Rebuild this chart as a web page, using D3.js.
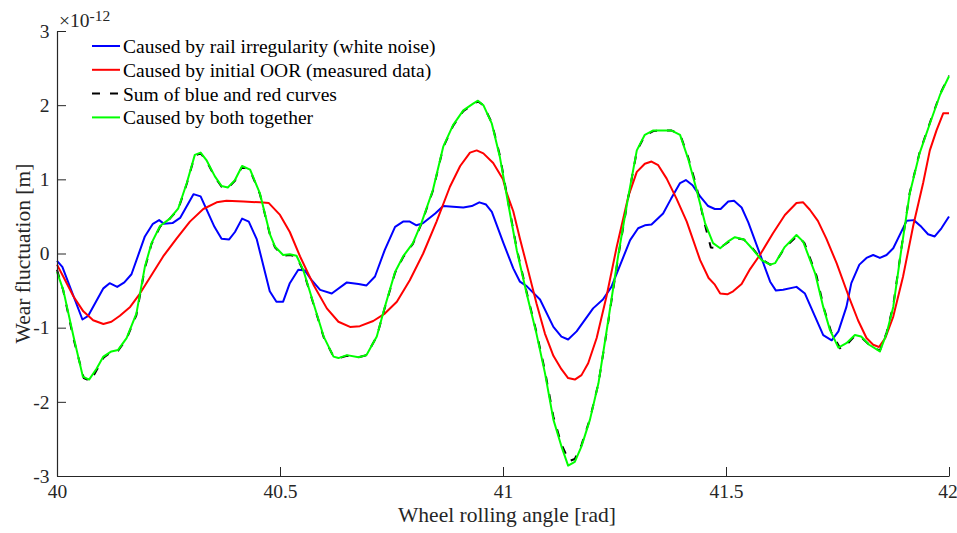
<!DOCTYPE html>
<html>
<head>
<meta charset="utf-8">
<script src="https://cdn.jsdelivr.net/npm/d3@7"></script>
<style>
  body { margin: 0; background: #fff; }
  svg { display: block; }
  text { font-family: "Liberation Serif", "Times New Roman", serif; fill: #262626; }
</style>
</head>
<body>
<svg id="chart" width="957" height="533"></svg>
<script>
// Wear fluctuation (×1e-12 m) against wheel rolling angle (rad)

const blueAngle = [40.0, 40.012, 40.057, 40.07, 40.104, 40.118, 40.135, 40.151, 40.167, 40.197, 40.215, 40.229, 40.24, 40.259, 40.276, 40.306, 40.322, 40.353, 40.369, 40.386, 40.399, 40.415, 40.43, 40.448, 40.477, 40.492, 40.507, 40.522, 40.541, 40.556, 40.571, 40.59, 40.616, 40.65, 40.676, 40.694, 40.713, 40.735, 40.758, 40.776, 40.791, 40.806, 40.821, 40.848, 40.866, 40.888, 40.911, 40.93, 40.947, 40.962, 40.975, 41.001, 41.023, 41.038, 41.053, 41.083, 41.113, 41.131, 41.146, 41.165, 41.202, 41.224, 41.243, 41.285, 41.303, 41.318, 41.333, 41.359, 41.377, 41.397, 41.41, 41.425, 41.442, 41.46, 41.475, 41.488, 41.505, 41.518, 41.535, 41.55, 41.599, 41.612, 41.628, 41.658, 41.677, 41.718, 41.737, 41.752, 41.77, 41.781, 41.799, 41.815, 41.83, 41.845, 41.86, 41.875, 41.905, 41.921, 41.938, 41.953, 41.968, 41.983, 42.0];
const blueWear = [-0.10, -0.18, -0.89, -0.84, -0.47, -0.40, -0.45, -0.39, -0.28, 0.23, 0.40, 0.45, 0.40, 0.41, 0.48, 0.80, 0.77, 0.36, 0.20, 0.19, 0.29, 0.47, 0.43, 0.19, -0.51, -0.65, -0.65, -0.40, -0.22, -0.23, -0.36, -0.49, -0.54, -0.39, -0.41, -0.43, -0.31, 0.05, 0.36, 0.43, 0.43, 0.38, 0.41, 0.54, 0.64, 0.63, 0.62, 0.64, 0.69, 0.66, 0.56, 0.14, -0.20, -0.38, -0.44, -0.62, -0.99, -1.12, -1.16, -1.05, -0.74, -0.62, -0.45, 0.18, 0.34, 0.38, 0.39, 0.54, 0.74, 0.95, 0.99, 0.92, 0.77, 0.64, 0.60, 0.60, 0.70, 0.71, 0.62, 0.42, -0.38, -0.50, -0.49, -0.45, -0.54, -1.10, -1.17, -1.05, -0.72, -0.40, -0.15, -0.06, -0.02, -0.06, -0.02, 0.07, 0.44, 0.45, 0.36, 0.26, 0.23, 0.34, 0.50];

const redAngle = [40.0, 40.014, 40.037, 40.059, 40.081, 40.104, 40.122, 40.141, 40.164, 40.186, 40.212, 40.238, 40.268, 40.298, 40.328, 40.358, 40.38, 40.418, 40.455, 40.475, 40.5, 40.522, 40.545, 40.575, 40.605, 40.631, 40.657, 40.679, 40.709, 40.735, 40.762, 40.791, 40.821, 40.851, 40.881, 40.904, 40.926, 40.941, 40.956, 40.978, 41.0, 41.008, 41.023, 41.038, 41.053, 41.075, 41.094, 41.113, 41.131, 41.146, 41.161, 41.176, 41.191, 41.21, 41.232, 41.255, 41.281, 41.3, 41.318, 41.333, 41.348, 41.367, 41.389, 41.412, 41.442, 41.461, 41.475, 41.487, 41.503, 41.516, 41.535, 41.554, 41.576, 41.605, 41.632, 41.658, 41.673, 41.688, 41.706, 41.725, 41.748, 41.774, 41.796, 41.815, 41.83, 41.843, 41.857, 41.875, 41.897, 41.92, 41.942, 41.957, 41.972, 41.987, 42.0];
const redWear = [-0.15, -0.31, -0.58, -0.78, -0.90, -0.95, -0.92, -0.84, -0.72, -0.54, -0.29, -0.04, 0.20, 0.43, 0.60, 0.69, 0.71, 0.70, 0.69, 0.68, 0.52, 0.29, -0.04, -0.42, -0.74, -0.92, -0.99, -0.98, -0.91, -0.81, -0.65, -0.36, 0.00, 0.43, 0.90, 1.18, 1.36, 1.39, 1.35, 1.22, 1.00, 0.82, 0.57, 0.20, -0.15, -0.67, -1.08, -1.38, -1.56, -1.68, -1.70, -1.64, -1.48, -1.14, -0.58, 0.09, 0.77, 1.10, 1.21, 1.24, 1.19, 1.01, 0.74, 0.43, -0.09, -0.33, -0.42, -0.54, -0.55, -0.51, -0.41, -0.21, -0.02, 0.27, 0.52, 0.68, 0.69, 0.59, 0.44, 0.20, -0.13, -0.56, -0.90, -1.14, -1.23, -1.26, -1.14, -0.85, -0.31, 0.38, 0.95, 1.39, 1.66, 1.89, 1.89];

const sumAngle = [40.0, 40.014, 40.037, 40.06, 40.075, 40.09, 40.105, 40.122, 40.137, 40.156, 40.178, 40.197, 40.212, 40.231, 40.253, 40.272, 40.291, 40.309, 40.322, 40.335, 40.354, 40.369, 40.383, 40.399, 40.415, 40.433, 40.455, 40.478, 40.489, 40.507, 40.522, 40.537, 40.552, 40.575, 40.598, 40.62, 40.631, 40.65, 40.676, 40.694, 40.717, 40.735, 40.758, 40.776, 40.798, 40.817, 40.843, 40.866, 40.888, 40.911, 40.933, 40.944, 40.956, 40.975, 40.993, 41.012, 41.031, 41.053, 41.075, 41.094, 41.113, 41.131, 41.148, 41.161, 41.176, 41.195, 41.214, 41.236, 41.259, 41.281, 41.3, 41.318, 41.337, 41.359, 41.377, 41.397, 41.415, 41.434, 41.45, 41.466, 41.485, 41.504, 41.52, 41.54, 41.561, 41.58, 41.599, 41.61, 41.632, 41.66, 41.676, 41.703, 41.72, 41.736, 41.757, 41.772, 41.789, 41.803, 41.823, 41.845, 41.86, 41.875, 41.893, 41.912, 41.934, 41.957, 41.98, 42.0];
const sumWear = [-0.22, -0.50, -1.15, -1.68, -1.72, -1.56, -1.40, -1.33, -1.31, -1.15, -0.83, -0.20, 0.13, 0.36, 0.47, 0.60, 0.94, 1.32, 1.35, 1.25, 1.03, 0.90, 0.88, 0.98, 1.17, 1.12, 0.80, 0.24, 0.08, -0.03, -0.02, -0.04, -0.23, -0.68, -1.13, -1.39, -1.41, -1.38, -1.40, -1.37, -1.12, -0.73, -0.26, -0.05, 0.13, 0.40, 0.85, 1.43, 1.72, 1.92, 2.01, 2.05, 2.00, 1.76, 1.32, 0.68, 0.06, -0.52, -1.06, -1.58, -2.20, -2.57, -2.80, -2.77, -2.58, -2.23, -1.75, -0.92, -0.02, 0.76, 1.38, 1.59, 1.65, 1.66, 1.66, 1.61, 1.30, 0.90, 0.45, 0.08, 0.07, 0.15, 0.21, 0.19, 0.06, -0.08, -0.15, -0.13, 0.08, 0.24, 0.14, -0.30, -0.75, -1.06, -1.29, -1.22, -1.11, -1.13, -1.24, -1.31, -1.07, -0.70, 0.06, 0.82, 1.36, 1.76, 2.15, 2.40];

const greenAngle = [40.0, 40.014, 40.037, 40.058, 40.072, 40.089, 40.104, 40.122, 40.137, 40.156, 40.178, 40.197, 40.212, 40.231, 40.253, 40.272, 40.291, 40.309, 40.322, 40.335, 40.354, 40.369, 40.383, 40.399, 40.415, 40.433, 40.455, 40.478, 40.489, 40.507, 40.522, 40.537, 40.552, 40.575, 40.598, 40.62, 40.631, 40.65, 40.676, 40.694, 40.717, 40.735, 40.758, 40.776, 40.798, 40.817, 40.843, 40.866, 40.888, 40.911, 40.933, 40.944, 40.956, 40.975, 40.993, 41.012, 41.031, 41.053, 41.075, 41.094, 41.113, 41.131, 41.146, 41.161, 41.176, 41.195, 41.214, 41.236, 41.259, 41.281, 41.3, 41.318, 41.337, 41.359, 41.377, 41.397, 41.415, 41.434, 41.453, 41.471, 41.487, 41.504, 41.52, 41.54, 41.561, 41.58, 41.599, 41.61, 41.632, 41.658, 41.673, 41.7, 41.718, 41.733, 41.752, 41.77, 41.789, 41.803, 41.821, 41.845, 41.86, 41.875, 41.893, 41.912, 41.934, 41.957, 41.98, 42.0];
const greenWear = [-0.25, -0.49, -1.12, -1.66, -1.70, -1.55, -1.39, -1.32, -1.30, -1.14, -0.81, -0.18, 0.14, 0.37, 0.47, 0.61, 0.95, 1.33, 1.36, 1.26, 1.04, 0.91, 0.89, 0.99, 1.18, 1.13, 0.81, 0.25, 0.09, -0.02, -0.01, -0.03, -0.22, -0.67, -1.12, -1.39, -1.41, -1.37, -1.40, -1.37, -1.12, -0.72, -0.25, -0.04, 0.14, 0.41, 0.86, 1.44, 1.73, 1.93, 2.02, 2.06, 2.00, 1.75, 1.30, 0.66, 0.04, -0.54, -1.08, -1.61, -2.24, -2.60, -2.86, -2.81, -2.60, -2.24, -1.75, -0.90, 0.00, 0.77, 1.39, 1.60, 1.66, 1.66, 1.66, 1.60, 1.28, 0.86, 0.41, 0.14, 0.07, 0.16, 0.22, 0.19, 0.05, -0.09, -0.15, -0.13, 0.09, 0.25, 0.16, -0.27, -0.72, -1.03, -1.27, -1.21, -1.10, -1.12, -1.23, -1.32, -1.08, -0.72, 0.05, 0.81, 1.35, 1.75, 2.14, 2.39];

const xTicks = [40, 40.5, 41, 41.5, 42];
const xTickLabels = ["40", "40.5", "41", "41.5", "42"];
const yTicks = [-3, -2, -1, 0, 1, 2, 3];
const yTickLabels = ["-3", "-2", "-1", "0", "1", "2", "3"];

const seriesNames = [
  "Caused by rail irregularity (white noise)",
  "Caused by initial OOR (measured data)",
  "Sum of blue and red curves",
  "Caused by both together"
];

const svg = d3.select("#chart");
const plotLeft = 57, plotRight = 949, plotTop = 31, plotBottom = 476;
const serif = '"Liberation Serif", "Times New Roman", serif';
const tickFont = "19.5px", titleFont = "21.5px";

const x = d3.scaleLinear().domain([40, 42]).range([plotLeft, plotRight]);
const y = d3.scaleLinear().domain([-3, 3]).range([plotBottom, plotTop]);

const zip = (a, b) => a.map((v, i) => [v, b[i]]);
const series = [
  { pts: zip(blueAngle, blueWear), color: "#0000ff", dash: null },
  { pts: zip(redAngle, redWear), color: "#ff0000", dash: null },
  { pts: zip(sumAngle, sumWear), color: "#000000", dash: "8,10" },
  { pts: zip(greenAngle, greenWear), color: "#00ff00", dash: null }
];

const line = d3.line().x(d => x(d[0])).y(d => y(d[1]));

// curves
const plot = svg.append("g");
series.forEach(s => {
  plot.append("path")
    .datum(s.pts)
    .attr("d", line)
    .attr("fill", "none")
    .attr("stroke", s.color)
    .attr("stroke-width", 2)
    .attr("stroke-linejoin", "round")
    .attr("stroke-dasharray", s.dash);
});

// axes with inward ticks
const xAxis = d3.axisBottom(x)
  .tickValues(xTicks)
  .tickFormat((d, i) => xTickLabels[i])
  .tickSizeInner(-9).tickSizeOuter(0).tickPadding(8.5);
const yAxis = d3.axisLeft(y)
  .tickValues(yTicks)
  .tickFormat((d, i) => yTickLabels[i])
  .tickSizeInner(-9).tickSizeOuter(0).tickPadding(7.5);

const gx = svg.append("g").attr("transform", `translate(0,${plotBottom})`).call(xAxis);
const gy = svg.append("g").attr("transform", `translate(${plotLeft},0)`).call(yAxis);
[gx, gy].forEach(g => {
  g.attr("font-family", serif).attr("font-size", tickFont);
  g.selectAll("path.domain").attr("stroke", "#262626").attr("stroke-width", 1.2);
  g.selectAll(".tick line").attr("stroke", "#262626").attr("stroke-width", 1);
  g.selectAll(".tick text")
    .attr("fill", "#262626")
    .style("font-family", serif)
    .style("font-size", tickFont);
});
// the last x label sits against the right edge of the figure
gx.selectAll(".tick text").filter((d, i) => i === xTicks.length - 1).attr("x", -1.5);

// axis titles
svg.append("text")
  .attr("x", 507).attr("y", 521.5)
  .attr("text-anchor", "middle")
  .style("font-size", titleFont)
  .text("Wheel rolling angle [rad]");

svg.append("text")
  .attr("transform", `translate(30,${(plotTop + plotBottom) / 2}) rotate(-90)`)
  .attr("text-anchor", "middle")
  .style("font-size", titleFont)
  .text("Wear fluctuation [m]");

// exponent note
const expo = svg.append("text").attr("x", 59).attr("y", 27).style("font-size", tickFont);
expo.append("tspan").text("×10");
expo.append("tspan").attr("dy", -6).style("font-size", "15.5px").text("-12");

// legend
const legend = svg.append("g");
series.forEach((s, i) => {
  const ly = 46 + i * 23.8;
  legend.append("line")
    .attr("x1", 92).attr("x2", 120).attr("y1", ly).attr("y2", ly)
    .attr("stroke", s.color).attr("stroke-width", 2)
    .attr("stroke-dasharray", s.dash);
  legend.append("text")
    .attr("x", 123).attr("y", ly + 7)
    .style("font-size", tickFont)
    .style("fill", "#000")
    .text(seriesNames[i]);
});
</script>
</body>
</html>
